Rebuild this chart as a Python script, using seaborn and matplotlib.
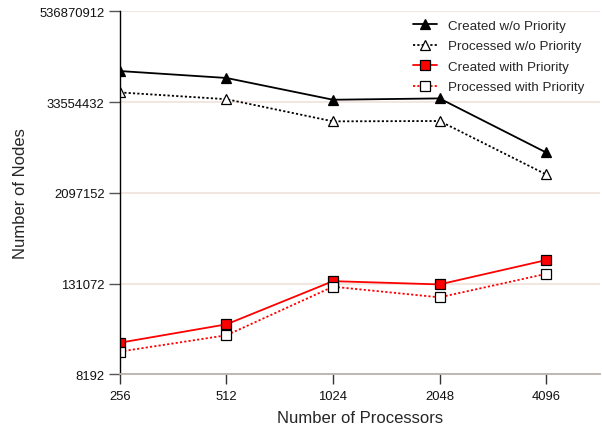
import numpy as np
import pandas as pd
import matplotlib
matplotlib.use("Agg")
import matplotlib.pyplot as plt
from matplotlib.ticker import FixedLocator, NullLocator
import seaborn as sns

processors = [256, 512, 1024, 2048, 4096]
created_wo = [86.5e6, 70.0e6, 36.0e6, 37.5e6, 7.2e6]
processed_wo = [45.0e6, 36.6e6, 18.6e6, 18.8e6, 3.68e6]
created_with = [21.5e3, 37.7e3, 141e3, 127.6e3, 268e3]
processed_with = [16.4e3, 27.0e3, 119e3, 86.0e3, 176e3]
y_ticks = [8192, 131072, 2097152, 33554432, 536870912]

series = {
    "Created w/o Priority": created_wo,
    "Processed w/o Priority": processed_wo,
    "Created with Priority": created_with,
    "Processed with Priority": processed_with,
}
styles = {
    "Created w/o Priority": dict(color="black", linestyle="-", marker="^",
                                 markerfacecolor="black", markeredgecolor="black"),
    "Processed w/o Priority": dict(color="black", linestyle=(0, (1.2, 1.2)), marker="^",
                                   markerfacecolor="white", markeredgecolor="black"),
    "Created with Priority": dict(color="#ff0000", linestyle="-", marker="s",
                                  markerfacecolor="#ff0000", markeredgecolor="black"),
    "Processed with Priority": dict(color="#ff0000", linestyle=(0, (1.2, 1.2)), marker="s",
                                    markerfacecolor="white", markeredgecolor="black"),
}

rows = []
for name, vals in series.items():
    for i, (p, v) in enumerate(zip(processors, vals)):
        rows.append({"series": name, "pos": i, "processors": p, "nodes": v})
df = pd.DataFrame(rows)

sns.set_style("white")
plt.rcParams["font.family"] = ["Liberation Sans", "DejaVu Sans"]

fig = plt.figure(figsize=(6.02, 4.27), dpi=100)
ax = fig.add_axes([0.1993, 0.1211, 0.7974, 0.8501])

for name in series:
    sub = df[df["series"] == name]
    sns.lineplot(data=sub, x="pos", y="nodes", ax=ax, label=name,
                 linewidth=1.3, markersize=6.5, markeredgewidth=0.9,
                 estimator=None, **styles[name])

ax.set_yscale("log", base=2)
ax.set_ylim(8192, 536870912)
ax.yaxis.set_major_locator(FixedLocator(y_ticks))
ax.yaxis.set_minor_locator(NullLocator())
ax.set_yticks(y_ticks)
ax.set_yticklabels([str(t) for t in y_ticks])

ax.set_xlim(0, 4.507)
ax.set_xticks(range(len(processors)))
ax.set_xticklabels([str(p) for p in processors])

ax.grid(axis="y", color="#efe2da", linewidth=1.2)
ax.grid(axis="x", visible=False)
ax.set_axisbelow(True)

for side in ("top", "right"):
    ax.spines[side].set_visible(False)
ax.spines["left"].set_color("black")
ax.spines["left"].set_linewidth(1.0)
ax.spines["bottom"].set_color("#b9b3ad")
ax.spines["bottom"].set_linewidth(1.3)

ax.tick_params(axis="y", which="major", direction="out", length=8, width=1.0,
               color="#555555", labelsize=9.4, pad=3, left=True, labelcolor="#111111")
ax.tick_params(axis="x", which="major", direction="out", length=7, width=1.0,
               color="#333333", labelsize=9.4, pad=4, bottom=True, labelcolor="#111111")

ax.set_xlabel("Number of Processors", fontsize=12, labelpad=6)
ax.set_ylabel("Number of Nodes", fontsize=12, labelpad=8)

ax.legend(loc="upper right", frameon=False, fontsize=9.6, handlelength=1.8,
          handletextpad=0.85, labelspacing=0.62, borderaxespad=0.2,
          bbox_to_anchor=(0.985, 1.0))

fig.savefig("out.png", dpi=100)
